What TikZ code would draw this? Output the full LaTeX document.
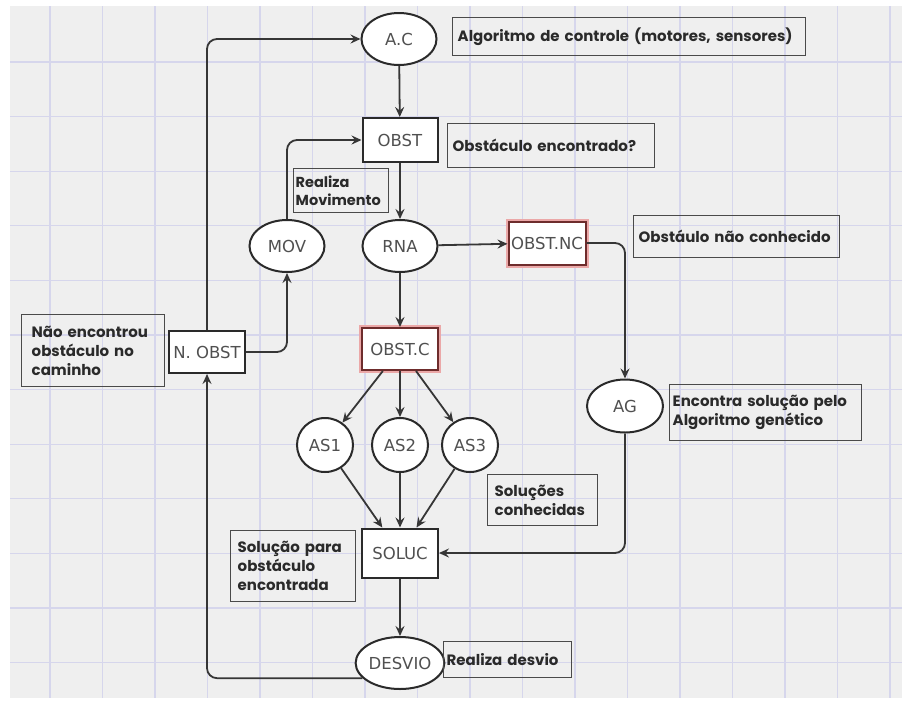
\documentclass[tikz,border=0pt]{standalone}
\usepackage{fontspec}
\setmainfont{DejaVu Sans}
\newfontfamily\notefont{Poppins}
\usetikzlibrary{arrows.meta,shapes.geometric}

\definecolor{bggray}{HTML}{EFEFEF}
\definecolor{gridc}{HTML}{D6D6EC}
\definecolor{ink}{HTML}{2A2A2A}
\definecolor{wire}{HTML}{363636}
\definecolor{nodetext}{HTML}{505050}
\definecolor{glow}{HTML}{EBA8A8}
\definecolor{redborder}{HTML}{6E2C2C}

\tikzset{
  x=1pt, y=-1pt,
  stateell/.style={ellipse, draw=ink, line width=2pt, fill=white,
    minimum width=75pt, minimum height=52pt, inner sep=0pt,
    font=\fontsize{16.5}{17}\selectfont, text=nodetext},
  smallell/.style={stateell, minimum width=56pt, minimum height=54pt},
  procbox/.style={rectangle, draw=ink, line width=2pt, fill=white,
    minimum width=75pt, minimum height=44pt, inner sep=0pt,
    font=\fontsize{16.5}{17}\selectfont, text=nodetext},
  hotbox/.style={procbox, draw=redborder,
    preaction={draw=glow, line width=6pt}},
  note/.style={rectangle, draw=ink!85, line width=1.4pt, anchor=north west,
    align=left, inner xsep=5pt, inner ysep=0pt,
    font=\notefont\bfseries\fontsize{15}{19}\selectfont, text=ink},
  flow/.style={draw=wire, line width=1.8pt, rounded corners=10pt,
    -{Stealth[length=10pt,width=9pt,inset=3.5pt]}},
}

\begin{document}
\begin{tikzpicture}
  % canvas and grid
  \useasboundingbox (0,0) rectangle (902,705);
  \fill[white] (0,0) rectangle (902,705);
  \fill[bggray] (10,6) rectangle (902,698);
  \foreach \k in {0,...,16}
    \draw[gridc, line width=1.3pt] ({50+52.5*\k},6) -- ({50+52.5*\k},698);
  \foreach \k in {0,...,11}
    \draw[gridc, line width=1.3pt] (10,{62+54.6*\k}) -- (902,{62+54.6*\k});

  % process nodes
  \node[stateell] (ac) at (399,39) {A.C};
  \node[procbox] (obst) at (400,140) {OBST};
  \node[stateell] (mov) at (287,246) {MOV};
  \node[stateell] (rna) at (400,246) {RNA};
  \node[hotbox, minimum width=77pt, minimum height=43pt] (obstnc) at (547,243) {OBST.NC};
  \node[procbox, minimum width=76pt, minimum height=42pt] (nobst) at (207,352) {N. OBST};
  \node[hotbox, minimum width=76pt, minimum height=42pt] (obstc) at (400,349) {OBST.C};
  \node[smallell] (as1) at (325,445) {AS1};
  \node[smallell] (as2) at (400,445) {AS2};
  \node[smallell] (as3) at (470,445) {AS3};
  \node[stateell, minimum width=76pt, minimum height=53pt] (ag) at (625,406) {AG};
  \node[procbox, minimum width=76pt, minimum height=49pt] (soluc) at (400,553) {SOLUC};
  \node[stateell] (desvio) at (400,663) {DESVIO};

  % side notes
  \node[note, text width=343pt, minimum height=38pt] (nac) at (452,17)
    {Algoritmo de controle (motores, sensores)};
  \node[note, text width=197pt, minimum height=44pt] (nobs) at (447,123)
    {Obstáculo encontrado?};
  \node[note, text width=91pt, minimum height=44pt, inner xsep=2pt,
        font=\notefont\bfseries\fontsize{14.5}{18}\selectfont] (nmov) at (293,168)
    {Realiza\\Movimento};
  \node[note, text width=196pt, minimum height=42pt] (nnc) at (633,215)
    {Obstáulo não conhecido};
  \node[note, text width=123pt, minimum height=72pt, inner xsep=10pt] (nno) at (21,314)
    {Não encontrou\\obstáculo no\\caminho};
  \node[note, text width=186pt, minimum height=56pt, inner xsep=3pt] (nag) at (669,384)
    {Encontra solução pelo\\Algoritmo genético};
  \node[note, text width=96pt, minimum height=51pt, inner xsep=7pt] (nsc) at (487,474)
    {Soluções\\conhecidas};
  \node[note, text width=111pt, minimum height=71pt, inner xsep=7pt] (nsol) at (230,530)
    {Solução para\\obstáculo\\encontrada};
  \node[note, text width=122pt, minimum height=36pt, inner xsep=3pt] (ndes) at (443,641)
    {Realiza desvio};

  % connectors
  \draw[flow] (ac) -- (obst);
  \draw[flow] (obst) -- (rna);
  \draw[flow] (rna) -- (obstnc);
  \draw[flow] (rna) -- (obstc);
  \draw[flow] (obstc) -- (as1);
  \draw[flow] (obstc) -- (as2);
  \draw[flow] (obstc) -- (as3);
  \draw[flow] (as1) -- (soluc);
  \draw[flow] (as2) -- (soluc);
  \draw[flow] (as3) -- (soluc);
  \draw[flow] (soluc) -- (desvio);
  \draw[flow] (obstnc.east) -| (ag.north);
  \draw[flow] (ag.south) |- (soluc.east);
  \draw[flow] (nobst.east) -| (mov.south);
  \draw[flow] (mov.north) |- (obst.west);
  \draw[flow] (nobst.north) |- (ac.west);
  \draw[flow] (desvio.202) -| (nobst.south);
\end{tikzpicture}
\end{document}
